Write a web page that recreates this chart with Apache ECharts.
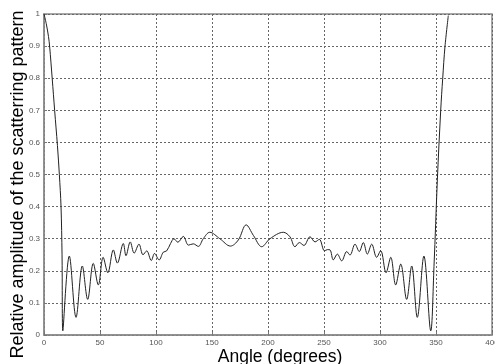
<!DOCTYPE html>
<html>
<head>
<meta charset="utf-8">
<script src="https://cdn.jsdelivr.net/npm/echarts@6/dist/echarts.min.js"></script>
<style>
html,body{margin:0;padding:0;background:#fff;}
#chart{width:495px;height:364px;}
</style>
</head>
<body>
<div id="chart"></div>
<script>
// Scattering pattern: angle (degrees) vs relative amplitude
const angles = [
  0, 2, 4, 5, 7.3, 9.5, 12, 13.7, 15.2, 16.1, 16.8,
  22.6, 28.6, 34.2, 39.0, 44.0, 48.5, 52.8, 57.0, 61.9, 65.5,
  70.8, 73.2, 77.0, 80.5, 84.8, 88.4, 91.7, 95.8, 98.7, 102.8,
  106.5, 109.5, 113, 116, 119.5, 124.4, 129, 133.3, 137.8, 142.2,
  148, 157, 166.5, 173.5, 180.5, 187, 194.4, 201.8, 213.7, 219.6,
  224.1, 228, 232.1, 237.5, 242, 245.8, 250.5, 253, 255.4, 258.3,
  261.9, 265.8, 270.3, 273.2, 277.7, 281.5, 285.1, 288.7, 292.6, 297,
  300.6, 305.4, 309.6, 314, 318.5, 323.8, 328.3, 333.3, 339.2, 345.3,
  348.2, 351.2, 354.2, 356, 358, 361
];
const amplitude = [
  1.0, 0.97, 0.93, 0.9, 0.8, 0.7, 0.59, 0.5, 0.4, 0.25, 0.013,
  0.246, 0.055, 0.215, 0.111, 0.223, 0.156, 0.242, 0.194, 0.265, 0.224,
  0.285, 0.247, 0.29, 0.255, 0.283, 0.25, 0.262, 0.232, 0.254, 0.234,
  0.258, 0.262, 0.285, 0.3, 0.289, 0.307, 0.28, 0.284, 0.276, 0.3,
  0.32, 0.3, 0.277, 0.296, 0.343, 0.31, 0.275, 0.3, 0.32, 0.306,
  0.275, 0.288, 0.279, 0.306, 0.29, 0.298, 0.262, 0.266, 0.265, 0.234,
  0.252, 0.231, 0.26, 0.249, 0.283, 0.26, 0.288, 0.252, 0.283, 0.242,
  0.263, 0.194, 0.242, 0.156, 0.221, 0.111, 0.215, 0.055, 0.246, 0.013,
  0.213, 0.483, 0.7, 0.8, 0.898, 0.995
];
const xTicks = [0, 50, 100, 150, 200, 250, 300, 350, 400];
const yTicks = [0, 0.1, 0.2, 0.3, 0.4, 0.5, 0.6, 0.7, 0.8, 0.9, 1];

const points = angles.map((a, i) => [a, amplitude[i]]);
const font = '"Liberation Sans", Arial, sans-serif';

const chart = echarts.init(document.getElementById('chart'), null, {renderer: 'canvas'});
chart.setOption({
  animation: false,
  backgroundColor: '#ffffff',
  grid: {
    left: 44, right: 3, top: 14, bottom: 29,
    containLabel: false, outerBoundsMode: 'none',
    show: true, borderColor: '#8a8a8a', borderWidth: 1.5, backgroundColor: '#ffffff'
  },
  xAxis: {
    type: 'value',
    min: xTicks[0], max: xTicks[xTicks.length - 1], interval: 50,
    name: 'Angle (degrees)',
    nameLocation: 'middle', nameGap: 13, nameMoveOverlap: false,
    nameTextStyle: {fontFamily: font, fontSize: 17.5, color: '#000', padding: [0, 0, 0, 24]},
    axisLine: {show: true, lineStyle: {color: '#8a8a8a', width: 1.5}},
    axisTick: {show: true, inside: true, length: 3, lineStyle: {color: '#777'}},
    axisLabel: {fontFamily: font, fontSize: 8, color: '#555', margin: 4},
    splitLine: {show: true, lineStyle: {color: '#666', type: [2, 2], width: 1}}
  },
  yAxis: {
    type: 'value',
    min: yTicks[0], max: yTicks[yTicks.length - 1], interval: 0.1,
    name: 'Relative amplitude of the scatterring pattern',
    nameLocation: 'middle', nameGap: 17, nameMoveOverlap: false,
    nameTextStyle: {fontFamily: font, fontSize: 18, color: '#000', padding: [0, 20, 0, 0]},
    axisLine: {show: true, lineStyle: {color: '#8a8a8a', width: 1.5}},
    axisTick: {show: true, inside: true, length: 3, lineStyle: {color: '#777'}},
    axisLabel: {fontFamily: font, fontSize: 8, color: '#555', margin: 4,
      formatter: v => String(Math.round(v * 10) / 10)},
    splitLine: {show: true, lineStyle: {color: '#666', type: [2, 2], width: 1}}
  },
  series: [{
    type: 'line',
    data: points,
    smooth: 0.35,
    symbol: 'none',
    lineStyle: {color: '#222', width: 1}
  }]
});
</script>
</body>
</html>
